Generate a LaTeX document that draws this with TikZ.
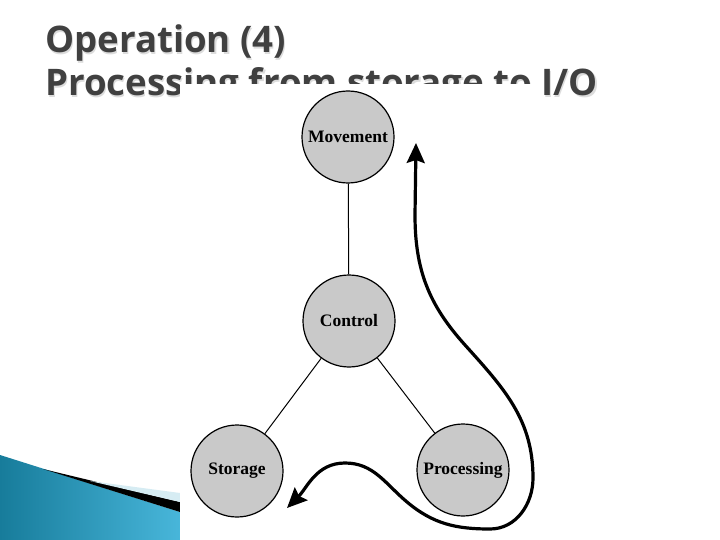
\documentclass[tikz,border=0pt]{standalone}
\usepackage{fontspec}
\newfontfamily\titlefont{Open Sans}
\newfontfamily\nodefont{Liberation Serif}
\usetikzlibrary{arrows.meta}
\definecolor{titlegray}{HTML}{404040}
\definecolor{shadowgray}{HTML}{DCDCDC}
\definecolor{teal1}{HTML}{177C9B}
\definecolor{teal2}{HTML}{48B6DA}
\definecolor{palestripe}{HTML}{D6ECF3}
\definecolor{circfill}{HTML}{C9C9C9}
\tikzset{
  titletext/.style={anchor=base west, inner sep=0pt, text=titlegray,
    font=\titlefont\bfseries\fontsize{36.6}{43}\selectfont},
  titleshadow/.style={titletext, text=shadowgray},
  unit/.style={circle, draw=black, line width=1.2pt, fill=circfill,
    minimum size=92pt, inner sep=0pt,
    font=\nodefont\bfseries\fontsize{17.5}{19}\selectfont},
  link/.style={line width=1pt},
  flow/.style={line width=3.2pt, {Stealth[length=20pt,width=18pt,inset=3pt]}-{Stealth[length=20pt,width=18pt,inset=3pt]}}
}
\begin{document}
\begin{tikzpicture}[x=1pt,y=1pt]
\useasboundingbox (0,0) rectangle (720,-540);
\fill[white] (0,0) rectangle (720,-540);
% bottom-left blue band
\shade[left color=teal1, right color=teal2] (0,-455) -- (180,-512) -- (180,-540) -- (0,-540) -- cycle;
\fill[black] (43,-469) -- (180,-502) -- (180,-512) -- cycle;
\fill[palestripe] (90,-481) -- (180,-493) -- (180,-502) -- cycle;
% title
\node[titleshadow] (t1s) at (46.2,-54.2) {Operation (4)};
\node[titletext] (t1) at (45,-53) {Operation (4)};
\node[titleshadow] (t2s) at (46.2,-97.2) {Processing from storage to I/O};
\node[titletext] (t2) at (45,-96) {Processing from storage to I/O};
% pasted figure background
\fill[white] (180,-84) rectangle (535,-540);
% diagram
\node[unit] (mov) at (348,-137) {Movement};
\node[unit] (ctl) at (349,-321) {Control};
\node[unit] (sto) at (237,-471) {Storage};
\node[unit] (pro) at (463,-470) {Processing};
\draw[link] (mov) -- (ctl);
\draw[link] (ctl) -- (sto);
\draw[link] (ctl) -- (pro);
\coordinate (fs) at (287,-508);
\coordinate (fp) at (345,-463);
\coordinate (fd) at (407,-502);
\coordinate (fb) at (490,-529);
\coordinate (fr) at (533,-478);
\coordinate (fu) at (465,-345);
\coordinate (fv) at (415,-215);
\coordinate (fe) at (416,-143);
\draw[flow] (fs) to[out=45,in=180] (fp) to[out=0,in=140] (fd)
  to[out=-40,in=180] (fb) to[out=0,in=-90] (fr) to[out=90,in=-48] (fu)
  to[out=132,in=-90] (fv) -- (fe);
\end{tikzpicture}
\end{document}
